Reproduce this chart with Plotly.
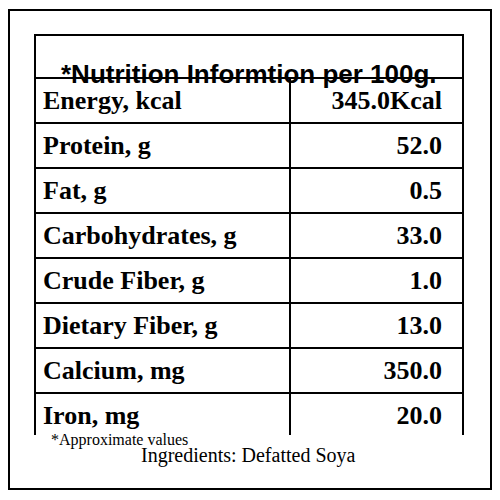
import plotly.graph_objects as go

title = "*Nutrition Informtion per 100g."
nutrients = ["Energy, kcal", "Protein, g", "Fat, g", "Carbohydrates, g",
             "Crude Fiber, g", "Dietary Fiber, g", "Calcium, mg", "Iron, mg"]
amounts = ["345.0Kcal", "52.0", "0.5", "33.0", "1.0", "13.0", "350.0", "20.0"]
footnote = "*Approximate values"
ingredients = "Ingredients: Defatted Soya"

serif = "Liberation Serif"
S = 484.0  # figure size; page body adds an 8px offset


def px(v):
    return (v - 8) / S


def py(v):
    return 1 - (v - 8) / S


pad = "\u00a0\u00a0"
fig = go.Figure()
fig.add_trace(go.Table(
    domain=dict(x=[px(35), px(463)], y=[py(435), py(35)]),
    columnwidth=[255, 173],
    header=dict(values=["", ""], height=43, fill_color="white",
                line=dict(color="white", width=0)),
    cells=dict(
        values=[["<b>%s</b>" % n for n in nutrients],
                ["<b>%s</b>%s" % (a, pad) for a in amounts]],
        height=44.6,
        align=["left", "right"],
        font=dict(family=serif, size=26, color="black"),
        line=dict(color="black", width=2),
        fill_color="white",
    ),
))

# header box and outer frame
fig.add_shape(type="rect", xref="paper", yref="paper",
              x0=px(35), x1=px(463), y0=py(78), y1=py(35),
              line=dict(color="black", width=2))
fig.add_shape(type="rect", xref="paper", yref="paper",
              x0=px(9), x1=px(491), y0=py(489), y1=py(10),
              line=dict(color="black", width=2))

fig.add_annotation(x=px(249), y=py(57), xref="paper", yref="paper",
                   text="<b>%s</b>" % title, showarrow=False,
                   font=dict(family="Liberation Sans", size=26, color="black"))
fig.add_annotation(x=px(49), y=py(451), xref="paper", yref="paper",
                   text=footnote, showarrow=False, xanchor="left",
                   font=dict(family=serif, size=16, color="black"))
fig.add_annotation(x=px(248), y=py(469), xref="paper", yref="paper",
                   text=ingredients, showarrow=False,
                   font=dict(family=serif, size=20, color="black"))

fig.update_layout(width=S, height=S, margin=dict(l=0, r=0, t=0, b=0),
                  paper_bgcolor="white", plot_bgcolor="white")
fig.write_html("out.html")
